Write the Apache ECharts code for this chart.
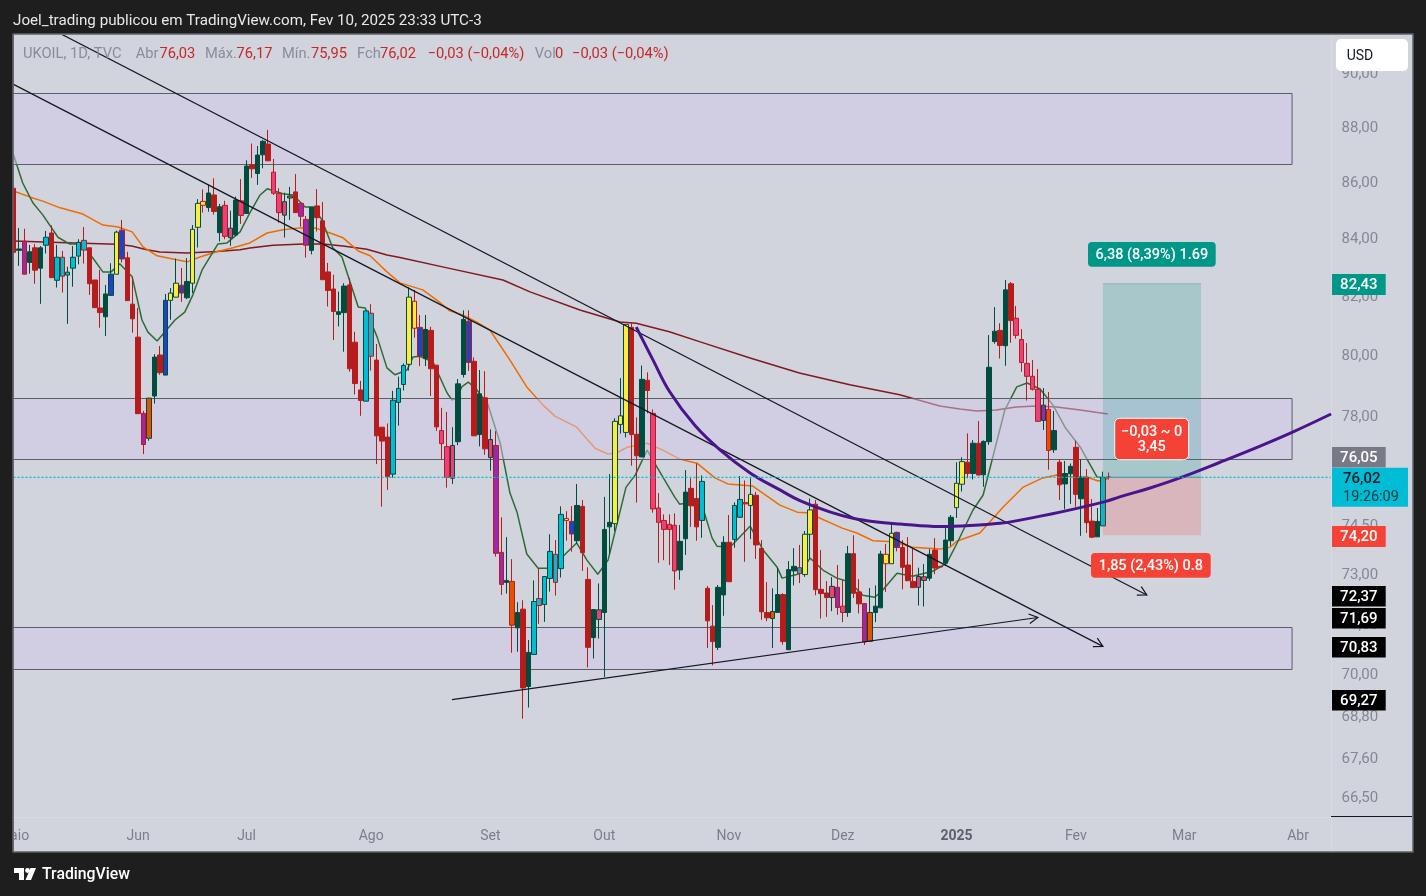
<!DOCTYPE html>
<html><head><meta charset="utf-8">
<style>html,body{margin:0;padding:0;background:#1e1e1e;overflow:hidden}#c{width:1426px;height:896px}</style>
<script src="https://cdn.jsdelivr.net/npm/echarts@6/dist/echarts.min.js"></script>
</head><body><div id="c"></div>
<script>
const opens=[85.79,83.59,83.91,83.17,83.68,82.97,83.77,84.20,82.55,83.35,
82.73,82.97,83.39,83.94,83.68,82.56,81.60,81.30,82.03,82.76,
84.30,83.33,81.73,80.61,78.08,77.27,78.65,80.01,79.34,81.86,
81.97,82.38,81.95,82.45,84.40,85.32,85.10,85.55,84.21,85.18,
84.03,84.13,85.34,84.89,86.63,86.32,87.00,87.39,86.37,85.61,
84.83,85.44,85.66,85.25,84.68,83.59,85.16,84.63,82.84,82.25,
81.38,81.44,82.39,80.44,78.85,78.48,81.42,79.84,77.63,77.31,
76.12,78.44,79.03,79.70,81.83,80.94,79.89,80.84,79.67,77.52,
77.00,75.99,77.16,79.36,81.15,79.80,77.39,78.59,76.65,77.04,
73.67,72.75,72.78,71.38,71.94,69.65,70.59,72.26,72.08,72.87,
73.61,73.17,74.72,74.63,74.03,75.10,72.84,71.09,71.63,71.84,
74.46,74.56,77.72,77.46,80.94,77.40,76.67,79.17,78.08,75.05,
74.66,74.54,74.51,73.13,74.09,75.67,75.35,74.66,72.57,71.43,
70.80,72.37,73.98,74.07,74.76,75.22,75.13,75.45,73.79,71.84,
71.66,71.84,72.38,70.73,73.10,73.20,72.99,74.23,75.17,72.54,
72.43,72.29,72.60,72.03,71.84,73.63,72.46,72.11,70.98,71.84,
71.98,73.61,73.32,74.29,73.82,73.28,72.78,72.60,72.81,72.88,
73.74,73.24,73.34,74.03,75.06,75.80,76.50,76.14,77.11,76.10,
77.16,80.46,80.84,80.32,82.43,81.25,80.53,79.73,79.30,78.87,
77.85,78.21,76.90,76.50,75.81,76.13,76.98,75.34,76.02,74.64,
74.15,74.49,76.03];
const closes=[83.52,83.64,82.76,83.54,82.90,83.68,84.05,82.64,83.35,82.69,
82.83,83.35,83.87,83.60,82.43,81.61,81.44,82.08,82.76,84.23,
83.29,81.85,81.23,78.07,77.07,78.58,79.94,79.42,81.86,82.11,
82.45,82.11,82.51,84.33,85.25,85.18,85.62,84.96,85.13,84.08,
84.37,85.37,84.82,86.59,86.49,86.99,87.49,86.78,85.61,84.92,
85.31,85.51,84.92,84.79,83.77,85.11,84.74,82.57,82.20,81.48,
81.47,82.35,79.55,79.06,78.50,81.50,79.97,77.35,77.18,76.04,
78.51,78.90,79.66,81.97,80.91,79.97,80.87,79.55,77.64,77.10,
76.02,77.04,79.05,81.21,79.76,77.35,78.72,76.93,77.23,73.64,
72.69,72.81,71.46,71.84,69.61,70.65,72.17,72.05,72.93,73.70,
72.75,74.85,74.66,74.24,75.13,73.66,70.80,71.93,71.92,74.38,
74.60,77.82,78.00,81.04,77.39,76.71,79.20,78.83,75.02,74.60,
74.38,74.38,73.10,74.01,75.55,75.12,74.46,75.89,71.59,70.97,
72.60,73.98,72.77,75.13,75.32,75.18,75.48,73.90,71.86,71.68,
71.87,72.38,70.97,73.14,73.24,73.02,74.23,74.99,72.53,72.41,
72.29,72.63,71.99,71.84,73.63,72.42,72.10,70.96,71.84,72.03,
73.62,73.32,74.26,73.82,73.21,72.80,72.59,72.93,72.92,73.61,
73.19,73.22,74.05,74.76,75.83,76.52,76.14,77.11,76.09,77.17,
79.60,80.81,80.33,82.22,81.17,80.67,79.76,79.30,78.87,77.82,
78.35,76.88,77.52,75.78,76.14,76.37,75.48,76.02,74.59,74.14,
74.63,76.01,76.02];
const highs=[85.79,84.38,84.35,83.78,83.81,83.74,84.27,84.47,83.78,83.57,
83.02,83.74,83.98,84.41,83.68,82.56,82.91,82.39,83.14,84.28,
84.66,83.54,82.65,81.60,78.16,78.58,80.04,80.31,82.08,82.28,
83.30,82.98,83.32,84.48,85.40,85.75,85.91,86.15,85.23,85.34,
84.99,85.49,86.12,86.80,87.41,87.32,87.54,87.91,86.85,85.79,
85.63,85.84,86.30,85.25,84.80,85.11,85.76,85.30,83.15,82.74,
82.16,82.45,82.63,80.79,79.15,81.50,81.73,80.38,77.63,77.75,
78.82,79.29,79.73,82.31,82.22,81.36,81.36,80.96,79.67,78.26,
78.13,77.63,79.21,81.52,81.52,79.93,79.51,79.47,77.56,77.50,
74.76,74.14,73.46,72.15,72.21,71.02,72.81,73.19,72.93,74.23,
74.05,75.10,74.95,75.11,75.81,75.30,73.21,71.93,72.72,75.40,
76.12,77.92,79.24,81.04,81.11,77.95,79.66,79.43,78.21,75.52,
74.85,74.85,74.88,74.52,76.25,75.99,76.46,76.08,72.64,72.06,
72.67,74.17,74.83,75.23,76.06,75.92,75.99,75.56,74.05,72.76,
72.57,73.20,72.42,73.40,73.80,73.90,74.33,75.35,75.30,73.74,
72.79,72.91,73.28,72.82,73.87,74.20,72.85,72.11,72.58,72.66,
73.72,73.93,74.55,74.31,74.05,74.14,73.80,73.20,73.31,73.77,
74.11,73.24,74.45,74.83,76.50,76.66,77.43,77.21,77.83,77.20,
80.68,81.63,81.08,82.56,82.49,81.67,80.88,80.41,79.84,79.54,
78.91,78.78,78.16,76.60,76.54,76.46,77.19,76.60,76.28,75.33,
75.05,76.20,76.17];
const lows=[83.52,83.05,82.76,82.78,82.43,81.74,83.48,82.64,82.30,82.13,
81.06,82.33,83.10,83.13,82.05,81.61,80.93,80.65,82.03,82.76,
83.17,81.85,80.76,78.07,76.76,77.19,78.40,79.35,79.34,81.20,
81.97,81.81,81.90,82.11,83.69,84.92,84.95,84.85,83.90,83.98,
83.75,84.09,84.52,84.89,86.16,85.91,86.51,86.78,85.55,84.56,
84.04,84.66,84.92,84.42,83.34,83.45,84.25,82.57,81.65,80.51,
80.97,80.12,79.45,78.70,78.00,78.48,79.49,76.44,75.09,75.62,
76.01,77.68,78.83,79.49,80.59,79.64,79.64,78.65,77.51,76.58,
75.69,75.81,77.05,79.26,79.48,77.35,77.01,76.74,76.23,73.54,
72.37,72.41,70.64,70.67,68.72,69.04,70.59,71.50,71.56,72.47,
72.35,72.90,74.03,73.69,73.93,73.10,70.21,70.47,71.06,69.93,
73.61,74.33,77.42,77.30,76.39,75.22,76.67,78.08,74.90,73.35,
73.43,73.28,72.53,72.83,73.59,74.46,74.03,74.12,70.78,70.27,
70.72,71.74,72.77,73.81,74.76,73.38,74.08,73.47,71.62,71.58,
70.78,71.84,70.88,70.73,72.66,72.73,72.92,73.46,72.36,71.66,
71.71,71.88,71.77,71.55,71.71,72.28,71.81,70.87,70.98,71.55,
71.98,72.46,73.32,73.70,72.54,72.80,72.58,72.05,72.02,72.80,
73.00,73.22,73.25,73.87,74.74,75.57,75.99,75.95,76.09,75.72,
77.06,80.39,79.89,79.65,80.42,80.56,79.45,78.50,78.83,77.82,
77.54,76.26,76.80,75.30,75.01,75.18,75.09,74.18,74.27,74.11,
74.15,74.49,75.95];
const candleFills="RGUGRGCRCCCCCCRRRGBYBRRRUOGRBYYBGYYYGRGPPGPGRGGRPPPORUUGRRRRGGRRRCCRRRCCCYYBGRRPPPGGBRGRPUUGOGRGCCCCCCYBGRRGPGGYYYRRGRPPPPPGGRRCRRGGRCCRYRRROGRGGCYYRRRPUPGRRUOGGYYBRRRPPGRRGGYYRGRGGGRGRPPPPPUOGRGGRGRRGCR";
const fillColors={R:'#b71c1c',G:'#004d40',C:'#00bcd4',Y:'#ffeb3b',P:'#ec407a',U:'#9c27b0',B:'#1e44c4',O:'#e65100'};

const maFast=[[0,87.0],[1.7,85.98],[3.6,85.26],[5.4,84.84],[8.2,84.05],[10.4,83.81],[12.8,83.81],[14.5,83.36],[16.5,82.84],[18,82.84],[19.6,83.12],[21.9,82.67],[23.7,81.19],[24.8,80.78],[26.5,80.48],[29.8,81.19],[31.6,81.46],[33.1,82.05],[34.8,82.91],[37.7,83.81],[39.4,83.85],[41.8,84.24],[43.6,84.91],[45.5,85.55],[46.8,85.77],[49.7,85.59],[51.6,85.55],[53.8,85.12],[55.3,85.12],[56.9,84.66],[58.9,83.68],[60.6,83.36],[62.1,82.49],[63.6,81.63],[64.9,81.60],[67.1,80.61],[68.9,79.58],[70.4,79.35],[72.6,79.51],[73.7,79.94],[75,79.97],[77.4,79.77],[80,78.75],[80.9,78.52],[81.8,78.59],[82.7,78.95],[83.9,79.11],[85.5,78.85],[87.5,78.39],[89.8,77.11],[91.6,75.52],[92.9,74.92],[94.7,73.62],[96.8,73.18],[98.6,73.18],[101.4,73.55],[103.9,73.96],[105.8,73.43],[107.8,73.00],[109.7,73.43],[113,75.70],[114.7,76.09],[116.9,76.89],[118.7,76.35],[122,75.39],[122.9,75.17],[123.9,75.20],[127.2,75.05],[128.9,74.11],[129.8,73.86],[132.2,73.83],[135.9,74.48],[138.3,73.74],[140.9,73.21],[141.8,72.88],[144.7,73.00],[147,73.49],[149.4,73.12],[151.9,72.88],[154.3,72.76],[156.7,72.36],[158.9,72.30],[160.4,72.52],[163,73.03],[165.9,72.94],[169.6,73.09],[172.2,73.34],[174.1,73.96],[177,74.98],[178.9,75.46],[182.9,78.19],[185.1,78.95],[187,79.08],[189.4,78.88],[191.8,78.35],[194,77.63],[196.8,76.99],[199.9,76.03],[201.9,76.0]];
const emaMid=[[0,85.69],[3,85.48],[5.4,85.33],[8.6,85.09],[12.8,84.87],[16.5,84.48],[19.3,84.41],[21.9,84.24],[23.9,83.71],[26.5,83.40],[29.4,83.29],[32,83.19],[34.4,83.36],[37.5,83.54],[40.5,83.68],[43.6,83.85],[46.8,84.20],[49.7,84.31],[52.9,84.38],[55.6,84.38],[58.4,84.20],[60.8,84.03],[63.6,83.57],[65.8,83.40],[68.9,82.84],[71.3,82.46],[75.5,82.22],[78.1,81.87],[80.5,81.50],[82.9,81.36],[85.5,81.12],[87.9,80.85],[91.6,79.84],[94.7,78.95],[97.7,78.35],[99.9,77.99],[103.9,77.63],[107.3,76.95],[109.7,76.76],[111.5,76.82],[113.2,76.98],[116.9,77.11],[119.8,76.89],[122.9,76.60],[126.1,76.47],[129.4,76.0],[131.8,75.81],[136.4,75.74],[141.4,75.14],[144.6,74.92],[147,74.89],[148.4,74.76],[152.9,74.42],[155.6,74.27],[158.6,74.03],[162.3,74.0],[165.9,73.83],[170.9,73.77],[172.8,73.83],[174.1,74.02],[178.3,74.27],[182.6,75.08],[186.3,75.71],[189.9,76.0],[192.5,76.09],[195.5,76.03],[198.1,76.03],[200.1,75.90],[201.9,75.97]];
const maSlow=[[0,83.92],[9.8,83.86],[19,83.80],[21.8,83.74],[24.6,83.61],[27,83.53],[32,83.50],[37.5,83.55],[41.8,83.61],[43.6,83.67],[47.9,83.77],[53.5,83.81],[57.1,83.81],[60.8,83.74],[65.2,83.63],[68.9,83.43],[71.3,83.34],[80,82.98],[90.3,82.56],[95.3,82.15],[104.5,81.53],[111.9,81.12],[114.9,81.08],[121,80.79],[126.7,80.45],[135.9,79.91],[145,79.41],[154.3,79.02],[163.5,78.69],[170.9,78.32],[174.6,78.22],[177.7,78.16],[181.3,78.19],[185,78.29],[188.7,78.32],[192.4,78.29],[196.8,78.19],[201.9,78.06]];
const arcCurve=[[114.9,80.95],[118,79.84],[121.1,78.78],[125.7,77.69],[130.4,76.89],[135.9,76.16],[141.4,75.62],[145.1,75.28],[150.6,74.93],[154.9,74.73],[158.9,74.62],[163.5,74.55],[170.9,74.47],[176.5,74.50],[182,74.57],[185.7,74.67],[193.1,74.92],[201.4,75.25],[204.1,75.40],[209.7,75.68],[215.2,76.0],[222.6,76.50],[230,77.02],[236.1,77.48],[243.1,78.06]];

const zoneBoxes=[[-2,235.9,89.28,86.67],[-2,235.9,78.6,76.63],[-2,235.9,71.41,70.16]];
// x0, price0, x1, price1, arrow
const trendLines=[[0,89.6,201,70.83,1],[8.76,91.51,209.1,72.37,1],[80.9,69.27,189,71.69,1]];
const positionX=[201,219.1], targetPrice=82.43, entryPrice=76.02, stopPrice=74.20;

const monthLabels={0:'Maio',23:'Jun',43:'Jul',66:'Ago',88:'Set',109:'Out',132:'Nov',153:'Dez',174:'2025',196:'Fev',216:'Mar',237:'Abr'};
const categories=Array.from({length:244},(_,i)=>monthLabels[i]||('d'+i));
const priceTicks=[90,88,86,84,82,80,78,76,74.5,73,71.5,70,68.8,67.6,66.5];

const legendParts=[['UKOIL, 1D, TVC',23,0],['Abr',135.7,0],['76,03',159.4,1],['Máx.',205,0],['76,17',236.6,1],['Mín.',282,0],['75,95',311,1],['Fch',357,0],['76,02',380,1],['−0,03 (−0,04%)',427.7,1],['Vol',534.8,0],['0',555,1],['−0,03 (−0,04%)',572,1]];
const priceChips=[['82,43',274,21,'#009688'],['76,05',447,20.5,'#787b86'],['74,20',526,21,'#f44336'],['72,37',586,20.5,'#000'],['71,69',608,20.5,'#000'],['70,83',637,20.5,'#000'],['69,27',690,20.5,'#000']];

const FONT='Roboto, sans-serif';
const candleData=opens.map((o,i)=>{
  const f=fillColors[candleFills[i]], up=closes[i]>=opens[i];
  const edge=up?'#004d40':'#b71c1c';
  return {value:[o,closes[i],lows[i],highs[i]],itemStyle:{color:f,color0:f,borderColor:edge,borderColor0:edge,borderWidth:1}};
});

function chip(x,y,w,h,fill,txt,color,opt){
  opt=opt||{};
  return {type:'group',z:100,children:[
    {type:'rect',z:100,shape:{x,y,width:w,height:h,r:opt.r||0},style:{fill,stroke:opt.stroke||null,lineWidth:opt.stroke?1:0}},
    {type:'text',z:101,style:{x:x+w/2,y:y+h/2+1,text:txt,fill:color,font:(opt.weight||500)+' '+(opt.size||15)+'px '+FONT,align:'center',verticalAlign:'middle',lineHeight:opt.lh||16}}
  ]};
}
const graphics=[
  {type:'rect',z:-5,shape:{x:13,y:34,width:1400,height:818},style:{fill:'#d1d4dc',stroke:'#5f6168',lineWidth:1.5}},
  {type:'line',z:1,shape:{x1:1331.5,y1:35,x2:1331.5,y2:851},style:{stroke:'#d8dae1',lineWidth:1}},
  {type:'line',z:1,shape:{x1:13,y1:817.5,x2:1331,y2:817.5},style:{stroke:'#d8dae1',lineWidth:1}},
  {type:'line',z:50,shape:{x1:1331,y1:816.5,x2:1412,y2:816.5},style:{stroke:'#131722',lineWidth:1}},
  {type:'rect',z:90,shape:{x:0,y:0,width:12.5,height:896},style:{fill:'#1e1e1e'}},
  {type:'line',z:90,shape:{x1:13,y1:34,x2:13,y2:852},style:{stroke:'#5f6168',lineWidth:1.5}},
  {type:'text',z:100,style:{x:13,y:21,text:'Joel_trading publicou em TradingView.com, Fev 10, 2025 23:33 UTC-3',fill:'#e8e8e8',font:'15.2px '+FONT,verticalAlign:'middle'}},
  {type:'rect',z:100,shape:{x:1336,y:39,width:72,height:32,r:5},style:{fill:'#fff'}},
  {type:'text',z:101,style:{x:1360,y:56,text:'USD',fill:'#131722',font:'14px '+FONT,align:'center',verticalAlign:'middle'}},
  chip(1332,467.7,76,39,'#00bcd4','',''),
  {type:'text',z:102,style:{x:1343,y:479,text:'76,02',fill:'#131722',font:'500 15px '+FONT,verticalAlign:'middle'}},
  {type:'text',z:102,style:{x:1343,y:497,text:'19:26:09',fill:'#2b3a42',font:'14.5px '+FONT,verticalAlign:'middle'}},
  chip(1088,242,127.7,24.7,'#009688','6,38 (8,39%) 1.69','#fff',{r:4,size:14.5}),
  chip(1091,553,119.7,24.7,'#f44336','1,85 (2,43%) 0.8','#fff',{r:4,size:14.5}),
  chip(1114.7,418.3,74,41.4,'#f44336','−0,03 ~ 0\n3,45','#fff',{r:5,size:14.5,stroke:'#fff',lh:15}),
  {type:'polygon',z:100,shape:{points:[[14,868],[24,868],[24,880],[19,880],[19,873],[14,873]]},style:{fill:'#fff'}},
  {type:'circle',z:100,shape:{cx:27.5,cy:870.5,r:2.4},style:{fill:'#fff'}},
  {type:'polygon',z:100,shape:{points:[[30.5,868],[36,868],[31,880],[25.5,880]]},style:{fill:'#fff'}},
  {type:'text',z:100,style:{x:42,y:875,text:'TradingView',fill:'#fff',font:'500 15.8px '+FONT,verticalAlign:'middle'}}
];
legendParts.forEach(p=>graphics.push({type:'text',z:100,style:{x:p[1],y:54.5,text:p[0],fill:p[2]?'#c62828':'#8a8d98',font:'14.7px '+FONT,verticalAlign:'middle'}}));
priceChips.forEach(c=>graphics.push(chip(1332,c[1],53.7,c[2],c[3],c[0],'#fff',{})));

function lineSeries(data,color,width,z,smooth){
  return {type:'line',xAxisIndex:1,yAxisIndex:0,data,showSymbol:false,symbol:'none',smooth:smooth||false,clip:true,silent:true,z,lineStyle:{color,width},animation:false};
}
const series=[
  lineSeries(maSlow,'#801922',1.5,2),
  lineSeries(emaMid,'#ef6c00',1.5,2),
  lineSeries(maFast,'#2e6b35',1.5,2),
  {type:'custom',xAxisIndex:1,yAxisIndex:0,clip:true,silent:true,z:3,data:zoneBoxes,animation:false,
   renderItem(p,api){
     const a=api.coord([api.value(0),api.value(2)]),b=api.coord([api.value(1),api.value(3)]);
     return {type:'rect',shape:{x:a[0],y:Math.round(a[1])+.5,width:b[0]-a[0],height:Math.round(b[1]-a[1])},style:{fill:'rgba(209,200,234,.5)',stroke:'#5d5f66',lineWidth:1}};
   }},
  {type:'candlestick',xAxisIndex:0,yAxisIndex:0,data:candleData,barWidth:5,z:4,silent:true,animation:false,clip:true},
  {type:'custom',xAxisIndex:1,yAxisIndex:0,clip:true,silent:true,z:5,animation:false,
   data:[[positionX[0],positionX[1],targetPrice,entryPrice,0],[positionX[0],positionX[1],entryPrice,stopPrice,1]],
   renderItem(p,api){
     const a=api.coord([api.value(0),api.value(2)]),b=api.coord([api.value(1),api.value(3)]);
     const red=api.value(4)===1;
     return {type:'group',children:[
       {type:'rect',shape:{x:a[0],y:a[1],width:b[0]-a[0],height:b[1]-a[1]},style:{fill:red?'rgba(244,67,54,.2)':'rgba(0,150,136,.2)',stroke:null}},
       {type:'line',shape:{x1:a[0],y1:a[1],x2:b[0],y2:a[1]},style:{stroke:red?'rgba(90,90,90,.6)':'rgba(0,150,136,.35)',lineWidth:1}}
     ]};
   }},
  {type:'custom',xAxisIndex:1,yAxisIndex:0,clip:true,silent:true,z:6,data:trendLines,animation:false,
   renderItem(p,api){
     const a=api.coord([api.value(0),api.value(1)]),b=api.coord([api.value(2),api.value(3)]);
     const ang=Math.atan2(b[1]-a[1],b[0]-a[0]),L=10;
     const w1=[b[0]-L*Math.cos(ang-.5),b[1]-L*Math.sin(ang-.5)],w2=[b[0]-L*Math.cos(ang+.5),b[1]-L*Math.sin(ang+.5)];
     const st={stroke:'#131722',lineWidth:1.2,fill:null};
     return {type:'group',children:[
       {type:'line',shape:{x1:a[0],y1:a[1],x2:b[0],y2:b[1]},style:st},
       {type:'polyline',shape:{points:[w1,b,w2]},style:st}
     ]};
   }},
  lineSeries(arcCurve,'#4a148c',3,6,0.4),
  Object.assign(lineSeries([[0,entryPrice],[243,entryPrice]],'#00bcd4',1,7),{lineStyle:{color:'#00bcd4',width:1.2,type:[2,2]}})
];
const chart=echarts.init(document.getElementById('c'),null,{renderer:'canvas'});
chart.setOption({
  animation:false,backgroundColor:'#1e1e1e',
  grid:{left:13.5,top:35,width:1317.06,height:782,containLabel:false,outerBoundsMode:'none'},
  xAxis:[
    {type:'category',data:categories,boundaryGap:false,axisLine:{show:false},axisTick:{show:false},splitLine:{show:false},
     axisLabel:{interval:(i,v)=>!!monthLabels[i],hideOverlap:false,showMinLabel:true,margin:12,color:'#7c7f8b',fontFamily:FONT,fontSize:14,
       formatter:v=>v==='2025'?'{b|2025}':v,rich:{b:{fontWeight:700,color:'#5d606b',fontFamily:FONT,fontSize:14}}}},
    {type:'value',min:0,max:243,show:false,splitLine:{show:false}}
  ],
  yAxis:[{type:'log',logBase:10,position:'right',min:65.95,max:91.47,axisLine:{show:false},axisTick:{show:false},splitLine:{show:false},minorTick:{show:false},
    axisLabel:{show:true,customValues:priceTicks,margin:11,color:'#858893',fontFamily:FONT,fontSize:15,
      formatter:v=>'{p|'+(+v).toFixed(2).replace('.',',')+'}',rich:{p:{padding:[2,0,0,0],color:'#858893',fontFamily:FONT,fontSize:15}}}}],
  graphic:{elements:graphics},
  series
});
</script></body></html>
